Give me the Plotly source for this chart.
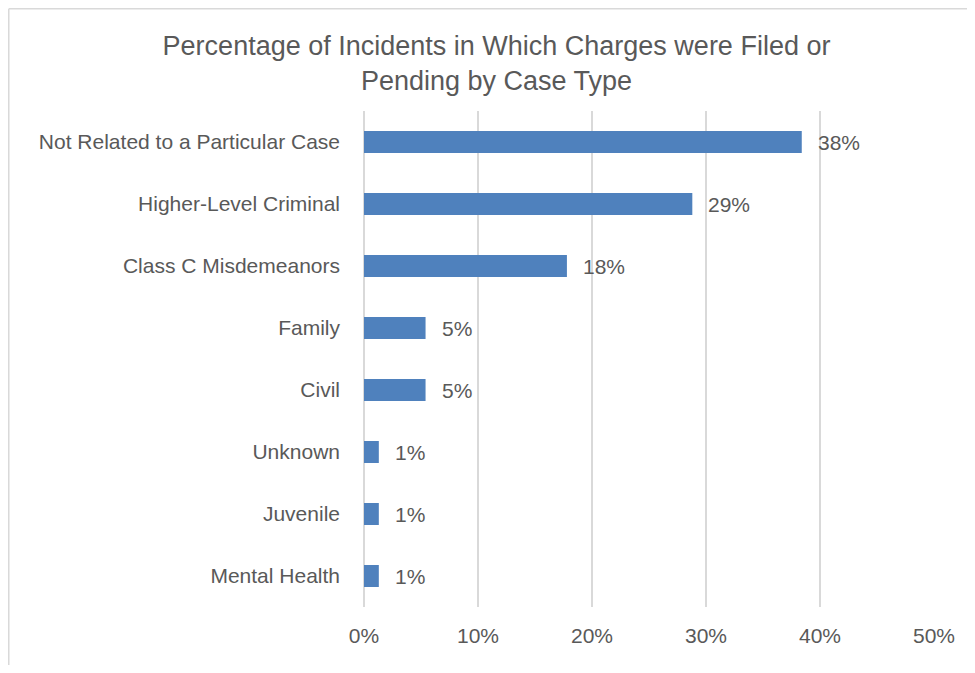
import plotly.graph_objects as go

categories = ["Not Related to a Particular Case", "Higher-Level Criminal", "Class C Misdemeanors",
              "Family", "Civil", "Unknown", "Juvenile", "Mental Health"]
values = [38.4, 28.8, 17.8, 5.4, 5.4, 1.3, 1.3, 1.3]
labels = ["38%", "29%", "18%", "5%", "5%", "1%", "1%", "1%"]
tick_vals = [0, 10, 20, 30, 40, 50]
tick_text = ["0%", "10%", "20%", "30%", "40%", "50%"]

font_fam = "Liberation Sans, Arial, sans-serif"
txt_color = "#595959"

fig = go.Figure(go.Bar(
    x=values, y=categories, orientation="h",
    marker=dict(color="#4f81bd", line=dict(width=0)),
    hoverinfo="skip",
))

for c, v, t in zip(categories, values, labels):
    fig.add_annotation(x=v, y=c, text=t, showarrow=False, xanchor="left",
                       xshift=14, font=dict(size=21, color=txt_color, family=font_fam))

# chart frame (top and left edges visible)
fig.add_shape(type="line", xref="paper", yref="paper",
              x0=-0.6232, x1=1.2, y0=1.2062, y1=1.2062,
              line=dict(color="#d9d9d9", width=1.5), layer="below")
fig.add_shape(type="line", xref="paper", yref="paper",
              x0=-0.6232, x1=-0.6232, y0=-0.3, y1=1.2062,
              line=dict(color="#d9d9d9", width=1.5), layer="below")

fig.update_layout(
    width=959, height=657,
    margin=dict(l=356, r=33, t=103, b=58),
    paper_bgcolor="white", plot_bgcolor="white",
    bargap=0.645,
    showlegend=False,
    title=dict(text="Percentage of Incidents in Which Charges were Filed or<br>Pending by Case Type",
               x=0.5094, xanchor="center", y=0.9283, yanchor="top",
               font=dict(size=27, color=txt_color, family=font_fam)),
    font=dict(family=font_fam, color=txt_color, size=21),
)
fig.update_xaxes(range=[0, 50], tickvals=tick_vals, ticktext=tick_text,
                 showgrid=True, gridcolor="#d9d9d9", gridwidth=1.5,
                 zeroline=True, zerolinecolor="#d9d9d9", zerolinewidth=1.5,
                 showline=False, ticks="", ticklen=0, ticklabelstandoff=14,
                 tickfont=dict(size=21, color=txt_color), automargin=False)
fig.update_yaxes(autorange="reversed", showgrid=False, showline=False, ticks="",
                 ticklabelstandoff=23,
                 tickfont=dict(size=21, color=txt_color), automargin=False)

fig.write_html("out.html")
